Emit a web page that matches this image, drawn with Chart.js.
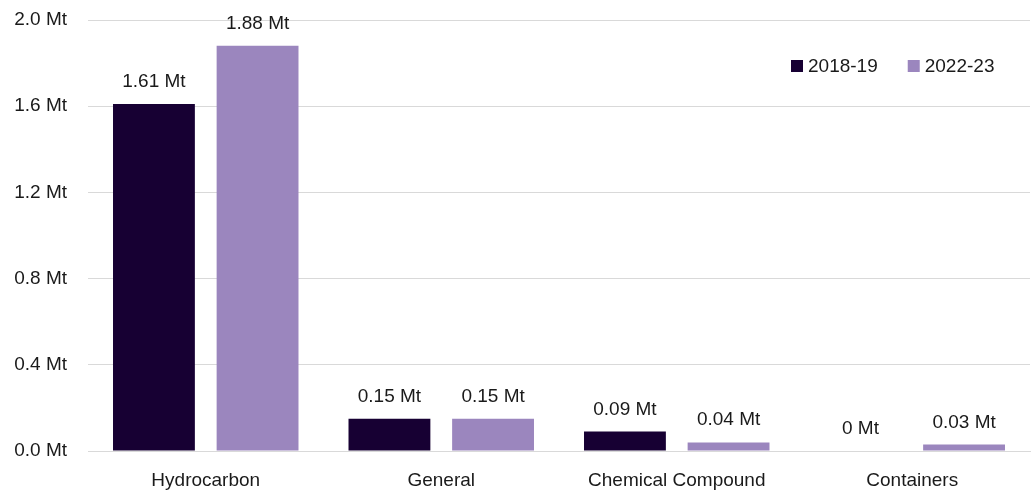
<!DOCTYPE html>
<html>
<head>
<meta charset="utf-8">
<script src="https://cdn.jsdelivr.net/npm/chart.js@4/dist/chart.umd.min.js"></script>
<style>
  html, body { margin: 0; padding: 0; background: #ffffff; }
  #wrap { width: 1034px; height: 492px; position: relative; }
</style>
</head>
<body>
<div id="wrap"><canvas id="c"></canvas></div>
<script>
// Cargo throughput by type, million tonnes
const categories = ['Hydrocarbon', 'General', 'Chemical Compound', 'Containers'];
const series2018 = [1.61, 0.15, 0.09, 0];
const series2022 = [1.88, 0.15, 0.04, 0.03];
const seriesNames = ['2018-19', '2022-23'];
const yTicks = [0, 0.4, 0.8, 1.2, 1.6, 2.0];

const FONT = { family: '"Liberation Sans", Arial, sans-serif', size: 19 };
const TEXT = '#1a1a1a';

function fmtMt(v) { return v + ' Mt'; }

// Value labels above each bar
const valueLabels = {
  id: 'valueLabels',
  afterDatasetsDraw(chart) {
    const ctx = chart.ctx;
    ctx.save();
    ctx.font = FONT.size + 'px ' + FONT.family;
    ctx.fillStyle = TEXT;
    ctx.textAlign = 'center';
    ctx.textBaseline = 'alphabetic';
    chart.data.datasets.forEach((ds, i) => {
      chart.getDatasetMeta(i).data.forEach((bar, j) => {
        ctx.fillText(fmtMt(ds.data[j]), bar.x, bar.y - 17);
      });
    });
    ctx.restore();
  }
};

// Legend drawn inside the plot area, top right
const insideLegend = {
  id: 'insideLegend',
  afterDraw(chart) {
    const ctx = chart.ctx;
    const area = chart.chartArea;
    ctx.save();
    ctx.font = FONT.size + 'px ' + FONT.family;
    ctx.textBaseline = 'middle';
    ctx.textAlign = 'left';
    const box = 12, gapText = 5, gapItem = 30;
    const y = area.top + 46;
    const widths = chart.data.datasets.map(ds => box + gapText + ctx.measureText(ds.label).width);
    let x = area.right - 239;
    chart.data.datasets.forEach((ds, i) => {
      ctx.fillStyle = ds.backgroundColor;
      ctx.fillRect(x, y - box / 2, box, box);
      ctx.fillStyle = TEXT;
      ctx.fillText(ds.label, x + box + gapText, y + 1);
      x += widths[i] + gapItem;
    });
    ctx.restore();
  }
};

new Chart(document.getElementById('c'), {
  type: 'bar',
  data: {
    labels: categories,
    datasets: [
      { label: seriesNames[0], data: series2018, backgroundColor: '#170033' },
      { label: seriesNames[1], data: series2022, backgroundColor: '#9b86be' }
    ]
  },
  options: {
    responsive: true,
    maintainAspectRatio: false,
    animation: false,
    layout: { padding: { top: 0, right: 4, bottom: 0, left: 0 } },
    datasets: { bar: { categoryPercentage: 0.88, barPercentage: 0.79 } },
    plugins: {
      legend: { display: false },
      tooltip: { enabled: false }
    },
    scales: {
      x: {
        afterFit(scale) { scale.height = 41; },
        grid: { display: false, drawTicks: false },
        border: { display: true, color: '#d9d9d9', width: 1 },
        ticks: { color: TEXT, font: FONT, padding: 18, maxRotation: 0 }
      },
      y: {
        min: 0,
        max: 2.0,
        afterBuildTicks(scale) { scale.ticks = yTicks.map(v => ({ value: v })); },
        afterFit(scale) { scale.width = 88; scale.paddingTop = 20; },
        grid: { color: '#d9d9d9', drawTicks: false },
        border: { display: false },
        ticks: {
          color: TEXT,
          font: FONT,
          padding: 21,
          callback: v => v.toFixed(1) + ' Mt'
        }
      }
    }
  },
  plugins: [valueLabels, insideLegend]
});
</script>
</body>
</html>
